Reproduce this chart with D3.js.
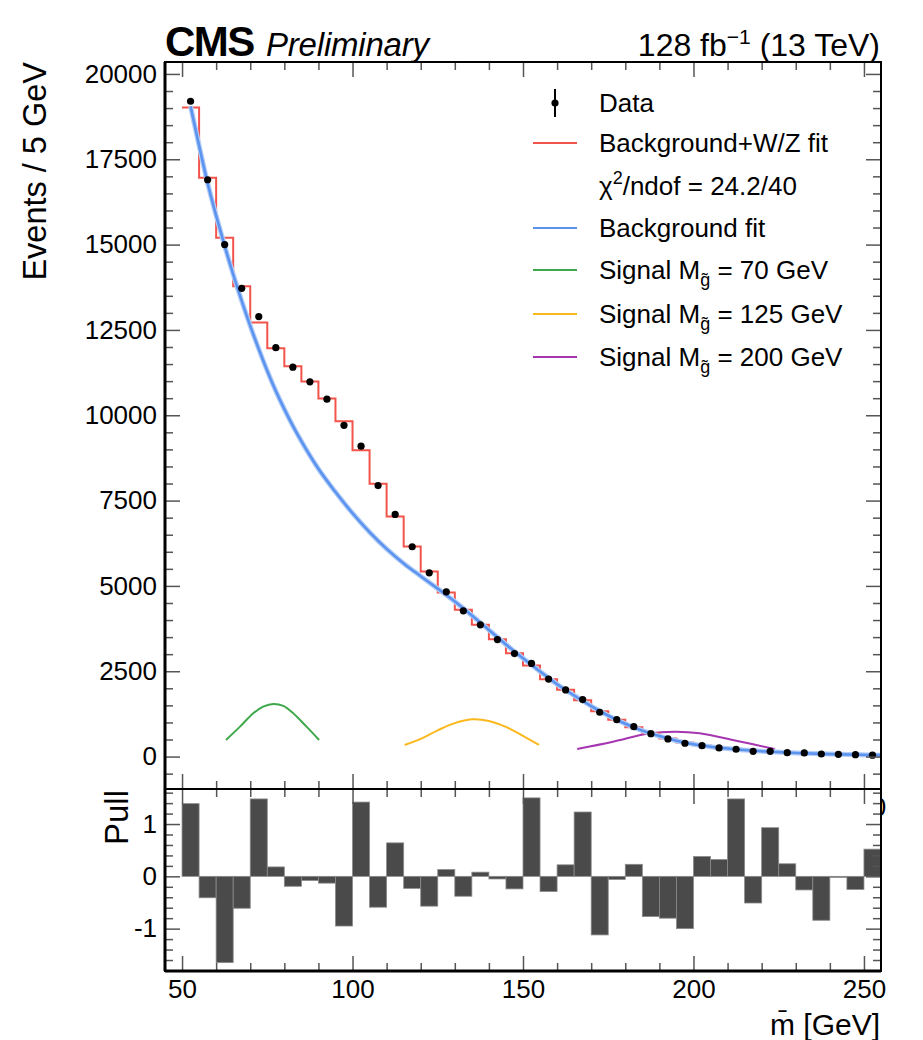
<!DOCTYPE html>
<html lang="en">
<head>
<meta charset="UTF-8">
<title>CMS dijet mass fit</title>
<script src="https://d3js.org/d3.v7.min.js"></script>
<style>
    body { margin: 0; background: #fff; }
    text { font-family: "Liberation Sans", Arial, Helvetica, sans-serif; fill: #000; }
</style>
</head>
<body>
<div id="plot"></div>
<script>
// bin lower edges, 5 GeV wide
let binLow = [50, 55, 60, 65, 70, 75, 80, 85, 90, 95, 100, 105, 110, 115, 120, 125, 130, 135, 140, 145,
              150, 155, 160, 165, 170, 175, 180, 185, 190, 195, 200, 205, 210, 215, 220, 225, 230, 235, 240, 245, 250];
let binWidth = 5;

// observed events per bin
let dataCounts = [19200, 16900, 15000, 13720, 12890, 11980, 11410, 10980, 10470, 9706,
                  9095, 7940, 7096, 6148, 5385, 4828, 4271, 3860, 3429, 3019,
                  2730, 2270, 1953, 1669, 1299, 1082, 877, 672, 516, 390,
                  320, 252, 214, 155, 155, 114, 106, 76, 67, 56, 40];

// background + W/Z fit, per bin
let fitCounts = [19015, 16962, 15202, 13783, 12718, 11964, 11436, 10987, 10488, 9823,
                 8972, 7995, 7037, 6157, 5424, 4808, 4300, 3860, 3440, 3030,
                 2666, 2267, 1960, 1650, 1330, 1080, 860, 680, 530, 410,
                 325, 260, 210, 170, 138, 115, 95, 78, 65, 55, 45];

// pull per bin
let pulls = [1.39, -0.41, -1.65, -0.61, 1.48, 0.18, -0.19, -0.08, -0.13, -0.95,
             1.42, -0.59, 0.64, -0.23, -0.57, 0.13, -0.38, 0.08, -0.05, -0.24,
             1.50, -0.29, 0.22, 1.23, -1.12, -0.06, 0.23, -0.77, -0.80, -1.00,
             0.38, 0.32, 1.48, -0.51, 0.93, 0.24, -0.26, -0.84, -0.02, -0.25, 0.52];

// background-only fit
let bkgMass = [52.5, 55, 57.5, 60, 62.5, 65, 67.5, 70, 72.5, 75, 77.5, 80, 82.5, 85, 87.5, 90, 95, 100,
               105, 110, 115, 120, 125, 130, 135, 140, 145, 150, 155, 160, 165, 170, 175, 180, 185,
               190, 195, 200, 205, 210, 220, 230, 240, 255];
let bkgValue = [19050, 17900, 16800, 15850, 14960, 14130, 13350, 12620, 11940, 11300, 10710, 10180, 9690,
                9240, 8820, 8430, 7750, 7130, 6575, 6085, 5660, 5285, 4920, 4545, 4135, 3710, 3285, 2880,
                2495, 2120, 1790, 1480, 1200, 960, 760, 600, 465, 360, 290, 235, 155, 105, 72, 42];

// signal shapes
let sig70Mass = [62.9, 67.0, 70.9, 73.8, 76.8, 79.7, 82.6, 86.5, 90.2];
let sig70Value = [487, 877, 1270, 1464, 1543, 1484, 1270, 877, 487];
let sig125Mass = [115.3, 120, 125, 130, 135, 140, 145, 150, 154.7];
let sig125Value = [340, 520, 770, 980, 1090, 1045, 870, 610, 340];
let sig200Mass = [165.9, 176.4, 187.1, 194.9, 201.8, 212.5, 223.8];
let sig200Value = [223, 437, 683, 730, 683, 466, 223];

let yTicksMain = [0, 2500, 5000, 7500, 10000, 12500, 15000, 17500, 20000];
let xTicks = [50, 100, 150, 200, 250];
let pullTicks = [-1, 0, 1];

let legendLabels = ['Data', 'Background+W/Z fit', 'chi2', 'Background fit', '70', '125', '200'];
let legendColors = ['#000', '#f2544c', null, '#5b93ef', '#3fa84a', '#fbb81c', '#a635b0'];

function translate(x, y) {
    return 'translate(' + x + ', ' + y + ')';
}

let svgWidth = 923, svgHeight = 1040;
let L = 165, R = 881, T = 62, MB = 789, PB = 971;

let svg = d3.select('#plot').append('svg')
    .attr('width', svgWidth)
    .attr('height', svgHeight);

let x = d3.scaleLinear().domain([45, 255]).range([L, R]);
let y = d3.scaleLinear().domain([-950, 20350]).range([MB, T]);
let yp = d3.scaleLinear().domain([-1.81, 1.67]).range([PB, MB]);

// ---------- main panel ----------
let main = svg.append('g');

// signals
let smooth = d3.line().x(d => x(d[0])).y(d => y(d[1])).curve(d3.curveCatmullRom);
[[sig70Mass, sig70Value, legendColors[4]],
 [sig125Mass, sig125Value, legendColors[5]],
 [sig200Mass, sig200Value, legendColors[6]]].forEach(function(s) {
    main.append('path')
        .attr('d', smooth(d3.zip(s[0], s[1])))
        .attr('fill', 'none')
        .attr('stroke', s[2])
        .attr('stroke-width', 2);
});

// background + W/Z fit as a step histogram
let stepPts = binLow.map((b, i) => [b, fitCounts[i]]);
stepPts.push([binLow[binLow.length - 1] + binWidth, fitCounts[fitCounts.length - 1]]);
main.append('path')
    .attr('d', d3.line().x(d => x(d[0])).y(d => y(d[1])).curve(d3.curveStepAfter)(stepPts))
    .attr('fill', 'none')
    .attr('stroke', legendColors[1])
    .attr('stroke-width', 2);

// background fit
let bkgPts = d3.zip(bkgMass, bkgValue);
let bkgLine = d3.line().x(d => x(d[0])).y(d => y(d[1])).curve(d3.curveMonotoneX);
main.append('path')
    .attr('d', bkgLine(bkgPts))
    .attr('fill', 'none')
    .attr('stroke', '#b3cdf7')
    .attr('stroke-width', 5);
main.append('path')
    .attr('d', bkgLine(bkgPts))
    .attr('fill', 'none')
    .attr('stroke', legendColors[3])
    .attr('stroke-width', 2.6);

// data points
main.selectAll('circle.data')
    .data(dataCounts)
    .join('circle')
    .attr('class', 'data')
    .attr('cx', (d, i) => x(binLow[i] + binWidth / 2))
    .attr('cy', d => y(d))
    .attr('r', 3.6)
    .attr('fill', '#000');

// stray label piece at the right edge
svg.append('text')
    .attr('x', 879).attr('y', 816)
    .attr('text-anchor', 'middle')
    .attr('font-size', 26)
    .text('0');

// ---------- legend ----------
let legY = [103, 143, 186, 228, 270, 314, 357];
let leg = svg.append('g');
legendLabels.forEach(function(lab, i) {
    let cy = legY[i];
    if (i === 0) {
        leg.append('line').attr('x1', 555).attr('x2', 555).attr('y1', cy - 14).attr('y2', cy + 14)
            .attr('stroke', '#000').attr('stroke-width', 2);
        leg.append('circle').attr('cx', 555).attr('cy', cy).attr('r', 3.6);
    } else if (legendColors[i]) {
        leg.append('line').attr('x1', 533).attr('x2', 577).attr('y1', cy).attr('y2', cy)
            .attr('stroke', legendColors[i]).attr('stroke-width', 2);
    }
    let t = leg.append('text').attr('x', 599).attr('y', cy + 9).attr('font-size', 26);
    if (lab === 'chi2') {
        t.append('tspan').text('\u03c7');
        t.append('tspan').attr('font-size', 18).attr('dy', -11).text('2');
        t.append('tspan').attr('dy', 11).text('/ndof = 24.2/40');
    } else if (i >= 4) {
        t.append('tspan').text('Signal M');
        t.append('tspan').attr('font-size', 18).attr('dy', 7).text('g\u0303');
        t.append('tspan').attr('dy', -7).text(' = ' + lab + ' GeV');
    } else {
        t.text(lab);
    }
});

// ---------- pull panel ----------
let pull = svg.append('g');
pull.append('rect')
    .attr('x', L).attr('y', MB).attr('width', R - L).attr('height', PB - MB)
    .attr('fill', '#fff');

pull.selectAll('rect.bar')
    .data(pulls)
    .join('rect')
    .attr('class', 'bar')
    .attr('x', (d, i) => x(binLow[i]))
    .attr('width', (d, i) => x(binLow[i] + binWidth) - x(binLow[i]))
    .attr('y', d => yp(Math.max(d, 0)))
    .attr('height', d => Math.abs(yp(d) - yp(0)))
    .attr('fill', '#4a4a4a')
    .attr('stroke', '#8a8a8a')
    .attr('stroke-width', 0.8);

// ---------- axes ----------
function styleAxis(g, size) {
    g.select('.domain').remove();
    g.selectAll('line').attr('stroke', '#555').attr('stroke-width', 1.5);
    g.selectAll('text').attr('font-size', size).attr('fill', '#000')
        .attr('font-family', '"Liberation Sans", Arial, Helvetica, sans-serif');
    g.attr('font-family', null);
}

let yMinor = d3.range(-500, 20001, 500).filter(v => v % 2500 !== 0);
let xMinor = d3.range(50, 255, 10).filter(v => v % 50 !== 0);
let pMinor = d3.range(-1.8, 1.61, 0.2).filter(v => Math.abs(v - Math.round(v)) > 0.01);

// main y
svg.append('g').attr('transform', translate(L, 0))
    .call(d3.axisLeft(y).tickValues(yTicksMain).tickSizeInner(-15).tickSizeOuter(0).tickPadding(8).tickFormat(d => d))
    .call(g => styleAxis(g, 26));
svg.append('g').attr('transform', translate(L, 0))
    .call(d3.axisLeft(y).tickValues(yMinor).tickSizeInner(-8).tickSizeOuter(0).tickFormat(''))
    .call(g => styleAxis(g, 0));
svg.append('g').attr('transform', translate(R, 0))
    .call(d3.axisRight(y).tickValues(yTicksMain).tickSizeInner(-15).tickSizeOuter(0).tickFormat(''))
    .call(g => styleAxis(g, 0));
svg.append('g').attr('transform', translate(R, 0))
    .call(d3.axisRight(y).tickValues(yMinor).tickSizeInner(-8).tickSizeOuter(0).tickFormat(''))
    .call(g => styleAxis(g, 0));

// x ticks on main top / bottom and pull top / bottom
[[T, d3.axisTop], [MB, d3.axisBottom], [MB, d3.axisTop]].forEach(function(a) {
    svg.append('g').attr('transform', translate(0, a[0]))
        .call(a[1](x).tickValues(xTicks).tickSizeInner(-15).tickSizeOuter(0).tickFormat(''))
        .call(g => styleAxis(g, 0));
    svg.append('g').attr('transform', translate(0, a[0]))
        .call(a[1](x).tickValues(xMinor).tickSizeInner(-8).tickSizeOuter(0).tickFormat(''))
        .call(g => styleAxis(g, 0));
});
svg.append('g').attr('transform', translate(0, PB))
    .call(d3.axisBottom(x).tickValues(xTicks).tickSizeInner(-15).tickSizeOuter(0).tickPadding(9).tickFormat(d => d))
    .call(g => styleAxis(g, 26));
svg.append('g').attr('transform', translate(0, PB))
    .call(d3.axisBottom(x).tickValues(xMinor).tickSizeInner(-8).tickSizeOuter(0).tickFormat(''))
    .call(g => styleAxis(g, 0));

// pull y
svg.append('g').attr('transform', translate(L, 0))
    .call(d3.axisLeft(yp).tickValues(pullTicks).tickSizeInner(-15).tickSizeOuter(0).tickPadding(8).tickFormat(d => d))
    .call(g => styleAxis(g, 26));
svg.append('g').attr('transform', translate(L, 0))
    .call(d3.axisLeft(yp).tickValues(pMinor).tickSizeInner(-8).tickSizeOuter(0).tickFormat(''))
    .call(g => styleAxis(g, 0));
svg.append('g').attr('transform', translate(R, 0))
    .call(d3.axisRight(yp).tickValues(pullTicks).tickSizeInner(-15).tickSizeOuter(0).tickFormat(''))
    .call(g => styleAxis(g, 0));
svg.append('g').attr('transform', translate(R, 0))
    .call(d3.axisRight(yp).tickValues(pMinor).tickSizeInner(-8).tickSizeOuter(0).tickFormat(''))
    .call(g => styleAxis(g, 0));

// frames
svg.append('rect').attr('x', L).attr('y', T).attr('width', R - L).attr('height', MB - T)
    .attr('fill', 'none').attr('stroke', '#000').attr('stroke-width', 2);
svg.append('rect').attr('x', L).attr('y', MB).attr('width', R - L).attr('height', PB - MB)
    .attr('fill', 'none').attr('stroke', '#000').attr('stroke-width', 2);
svg.append('line').attr('x1', L).attr('x2', L).attr('y1', T).attr('y2', PB)
    .attr('stroke', '#000').attr('stroke-width', 3);
svg.append('line').attr('x1', L).attr('x2', R).attr('y1', PB).attr('y2', PB)
    .attr('stroke', '#000').attr('stroke-width', 3);

// ---------- titles ----------
svg.append('text').attr('x', 165).attr('y', 56)
    .attr('font-size', 42).attr('font-weight', 'bold').attr('letter-spacing', -1.5)
    .text('CMS');
svg.append('text').attr('x', 266).attr('y', 56)
    .attr('font-size', 33).attr('font-style', 'italic').attr('letter-spacing', -0.2)
    .text('Preliminary');
let lumi = svg.append('text').attr('x', 880).attr('y', 56)
    .attr('font-size', 32).attr('text-anchor', 'end');
lumi.append('tspan').text('128 fb');
lumi.append('tspan').attr('font-size', 21).attr('dy', -12).text('\u22121');
lumi.append('tspan').attr('dy', 12).text(' (13 TeV)');

svg.append('text')
    .attr('transform', translate(46, 62) + ' rotate(-90)')
    .attr('text-anchor', 'end')
    .attr('font-size', 32.5)
    .text('Events / 5 GeV');
svg.append('text')
    .attr('transform', translate(128, 790) + ' rotate(-90)')
    .attr('text-anchor', 'end')
    .attr('font-size', 33)
    .text('Pull');
svg.append('text')
    .attr('x', 880).attr('y', 1035)
    .attr('text-anchor', 'end')
    .attr('font-size', 30)
    .text('m\u0304 [GeV]');
</script>
</body>
</html>
